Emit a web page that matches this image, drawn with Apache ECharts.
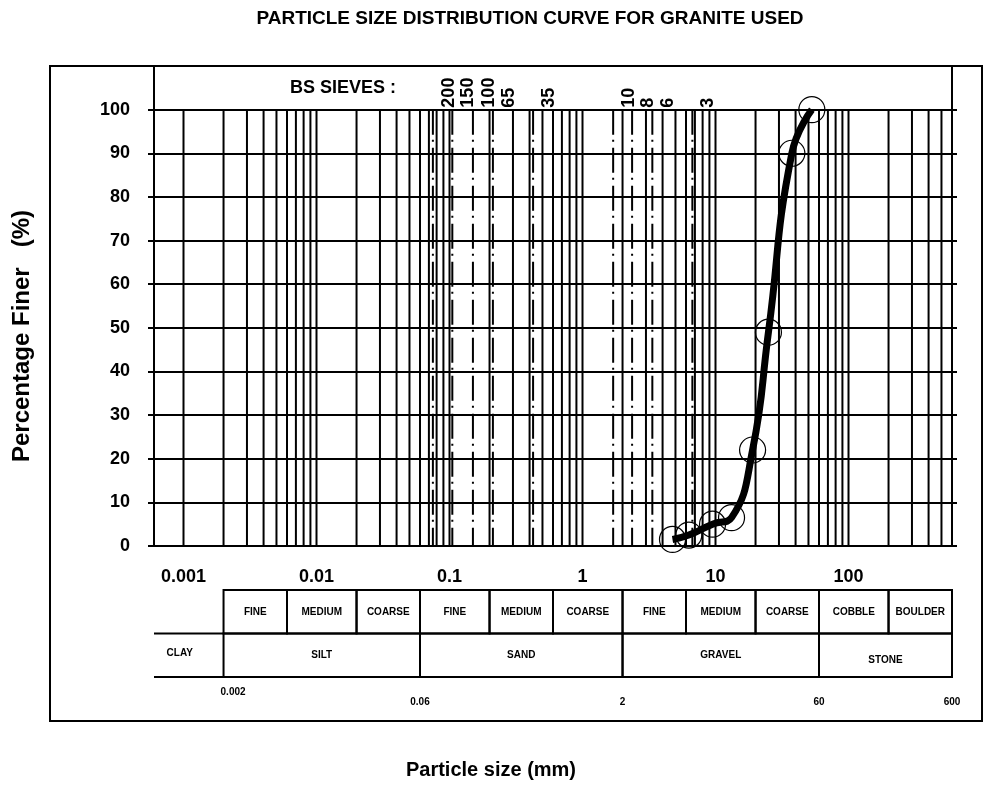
<!DOCTYPE html>
<html><head><meta charset="utf-8">
<script src="https://cdn.jsdelivr.net/npm/echarts@6/dist/echarts.min.js"></script>
<style>html,body{margin:0;padding:0;background:#fff}#c{width:983px;height:786px}</style>
</head><body><div id="c"></div>
<script>
// ---- data ----
const sizes = [4.75, 6.3, 9.5, 13.2, 19, 25, 37.5, 53];
const finer = [1.5, 2.5, 5, 6.5, 22, 49, 90, 100];
const sieveSizes = [0.075, 0.105, 0.15, 0.212, 0.425, 1.7, 2.36, 3.35, 6.7];
const sieveLabels = ['200', '150', '100', '65', '35', '10', '8', '6', '3'];
const subClassBounds = [0.002, 0.006, 0.02, 0.06, 0.2, 0.6, 2, 6, 20, 60, 200, 600];
const subClassLabels = ['FINE', 'MEDIUM', 'COARSE', 'FINE', 'MEDIUM', 'COARSE', 'FINE', 'MEDIUM', 'COARSE', 'COBBLE', 'BOULDER'];
const classBounds = [0.0006, 0.002, 0.06, 2, 60, 600];
const classLabels = ['CLAY', 'SILT', 'SAND', 'GRAVEL', 'STONE'];
const boundaryValues = [0.002, 0.06, 2, 60, 600];
const boundaryLabels = ['0.002', '0.06', '2', '60', '600'];
const xMin = 0.0006, xMax = 600;

const FF = '"Liberation Sans", Arial, sans-serif';
// log grid lines 1..9 x 10^k
const gridValues = [];
for (let k = -3; k <= 2; k++) {
  for (let m = 1; m <= 9; m++) {
    const v = Number((m * Math.pow(10, k)).toPrecision(6));
    if (v >= 0.001 && v < xMax) gridValues.push(v);
  }
}
// table cells
const cells = [];
const cellLabels = [];
for (let i = 0; i < subClassLabels.length; i++) {
  cells.push([subClassBounds[i], subClassBounds[i + 1], 1]);
  cellLabels.push(subClassLabels[i]);
}
for (let i = 0; i < classLabels.length; i++) {
  cells.push([classBounds[i], classBounds[i + 1], 0]);
  cellLabels.push(classLabels[i]);
}

const chart = echarts.init(document.getElementById('c'), null, {renderer: 'canvas'});
const option = {
  animation: false,
  backgroundColor: '#fff',
  grid: [
    {left: 154, right: 31, top: 66, bottom: 240, show: true, borderColor: '#000', borderWidth: 2},
    {left: 154, right: 31, top: 590, bottom: 109, show: false}
  ],
  xAxis: [
    {type: 'log', logBase: 10, min: xMin, max: xMax, gridIndex: 0,
     axisLine: {show: true, lineStyle: {color: '#000', width: 2}},
     axisTick: {show: false}, splitLine: {show: false},
     axisLabel: {showMinLabel: false, showMaxLabel: false, margin: 22, color: '#000',
                 fontFamily: FF, fontWeight: 'bold', fontSize: 18}},
    {type: 'log', logBase: 10, min: xMin, max: xMax, gridIndex: 1, show: false}
  ],
  yAxis: [
    {type: 'value', min: 0, max: 110, interval: 10, gridIndex: 0,
     axisLine: {show: true, lineStyle: {color: '#000', width: 2}},
     axisTick: {show: true, length: 6, lineStyle: {color: '#000', width: 2}},
     splitLine: {show: true, lineStyle: {color: '#000', width: 2}},
     axisLabel: {margin: 24, color: '#000', fontFamily: FF, fontWeight: 'bold', fontSize: 18,
                 formatter: v => (v > 100 ? '' : String(v))}},
    {type: 'value', min: 0, max: 110, interval: 10, gridIndex: 0, position: 'right',
     axisLine: {show: true, lineStyle: {color: '#000', width: 2}},
     axisTick: {show: true, length: 5, lineStyle: {color: '#000', width: 2}},
     splitLine: {show: false}, axisLabel: {show: false}},
    {type: 'value', min: 0, max: 2, gridIndex: 1, show: false}
  ],
  graphic: [
    {type: 'rect', shape: {x: 50, y: 66, width: 932, height: 655},
     style: {fill: 'none', stroke: '#000', lineWidth: 2}, z: 100},
    {type: 'text', x: 530, y: 19, style: {text: 'PARTICLE SIZE DISTRIBUTION CURVE FOR GRANITE USED',
     align: 'center', verticalAlign: 'middle', font: 'bold 19px ' + FF, fill: '#000'}},
    {type: 'text', x: 343, y: 88, style: {text: 'BS SIEVES :', align: 'center', verticalAlign: 'middle',
     font: 'bold 18px ' + FF, fill: '#000'}},
    {type: 'text', x: 491, y: 770, style: {text: 'Particle size (mm)', align: 'center', verticalAlign: 'middle',
     font: 'bold 20px ' + FF, fill: '#000'}},
    {type: 'text', x: 22, y: 336, rotation: Math.PI / 2, style: {text: 'Percentage Finer   (%)', align: 'center',
     verticalAlign: 'middle', font: 'bold 24px ' + FF, fill: '#000'}}
  ],
  series: [
    {type: 'custom', xAxisIndex: 0, yAxisIndex: 0, z: 1, silent: true,
     encode: {x: 0}, data: gridValues.map(v => [v]),
     renderItem: (params, api) => {
       const v = api.value(0);
       const a = api.coord([v, 0]), b = api.coord([v, 100]);
       return {type: 'line', shape: {x1: a[0], y1: a[1], x2: b[0], y2: b[1]},
               style: {stroke: '#000', lineWidth: 2}};
     }},
    {type: 'custom', xAxisIndex: 0, yAxisIndex: 0, z: 2, silent: true, clip: false,
     encode: {x: 0}, data: sieveSizes.map(v => [v]),
     renderItem: (params, api) => {
       const v = api.value(0);
       const top = api.coord([v, 100]), bot = api.coord([v, 0]);
       return {type: 'group', children: [
         {type: 'line', shape: {x1: top[0], y1: top[1], x2: bot[0], y2: bot[1]},
          style: {stroke: '#000', lineWidth: 2, lineDash: [25, 5, 2, 6]}},
         {type: 'text', x: top[0] + 16, y: top[1] - 2, rotation: Math.PI / 2,
          style: {text: sieveLabels[params.dataIndex], align: 'left', verticalAlign: 'middle',
                  font: 'bold 18px ' + FF, fill: '#000'}}
       ]};
     }},
    {type: 'line', xAxisIndex: 0, yAxisIndex: 0, z: 5,
     data: sizes.map((s, i) => [s, finer[i]]),
     smooth: 0.5,
     lineStyle: {color: '#000', width: 7},
     symbol: 'circle', symbolSize: 26, showAllSymbol: true,
     itemStyle: {color: 'rgba(0,0,0,0)', borderColor: '#000', borderWidth: 1.2}},
    {type: 'custom', xAxisIndex: 1, yAxisIndex: 2, silent: true, clip: false,
     encode: {x: [0, 1], y: 2}, data: cells,
     renderItem: (params, api) => {
       const x0 = api.value(0), x1 = api.value(1), row = api.value(2);
       const tl = api.coord([x0, row + 1]), br = api.coord([x1, row]);
       const children = [];
       const first = x0 <= xMin;
       if (!first) {
         children.push({type: 'rect', shape: {x: tl[0], y: tl[1], width: br[0] - tl[0], height: br[1] - tl[1]},
                        style: {fill: 'none', stroke: '#000', lineWidth: 2}});
       } else {
         children.push({type: 'line', shape: {x1: tl[0], y1: tl[1], x2: br[0], y2: tl[1]},
                        style: {stroke: '#000', lineWidth: 2}});
         children.push({type: 'line', shape: {x1: tl[0], y1: br[1], x2: br[0], y2: br[1]},
                        style: {stroke: '#000', lineWidth: 2}});
       }
       const label = cellLabels[params.dataIndex];
       const dx = first ? -9 : 0;
       const dy = label === 'STONE' ? 5 : (first ? -2 : 0);
       children.push({type: 'text', x: (tl[0] + br[0]) / 2 + dx, y: (tl[1] + br[1]) / 2 + dy,
                      style: {text: label, align: 'center', verticalAlign: 'middle',
                              font: 'bold 10px ' + FF, fill: '#000'}});
       return {type: 'group', children};
     }},
    {type: 'custom', xAxisIndex: 1, yAxisIndex: 2, silent: true, clip: false,
     encode: {x: 0, y: 1}, data: boundaryValues.map(v => [v, 0]),
     renderItem: (params, api) => {
       const p = api.coord([api.value(0), api.value(1)]);
       const first = params.dataIndex === 0;
       return {type: 'text', x: p[0] + (first ? -3 : 0), y: p[1] + (first ? 15 : 25),
               style: {text: boundaryLabels[params.dataIndex], align: first ? 'left' : 'center',
                       verticalAlign: 'middle', font: 'bold 10px ' + FF, fill: '#000'}};
     }}
  ]
};
chart.setOption(option);
</script></body></html>
